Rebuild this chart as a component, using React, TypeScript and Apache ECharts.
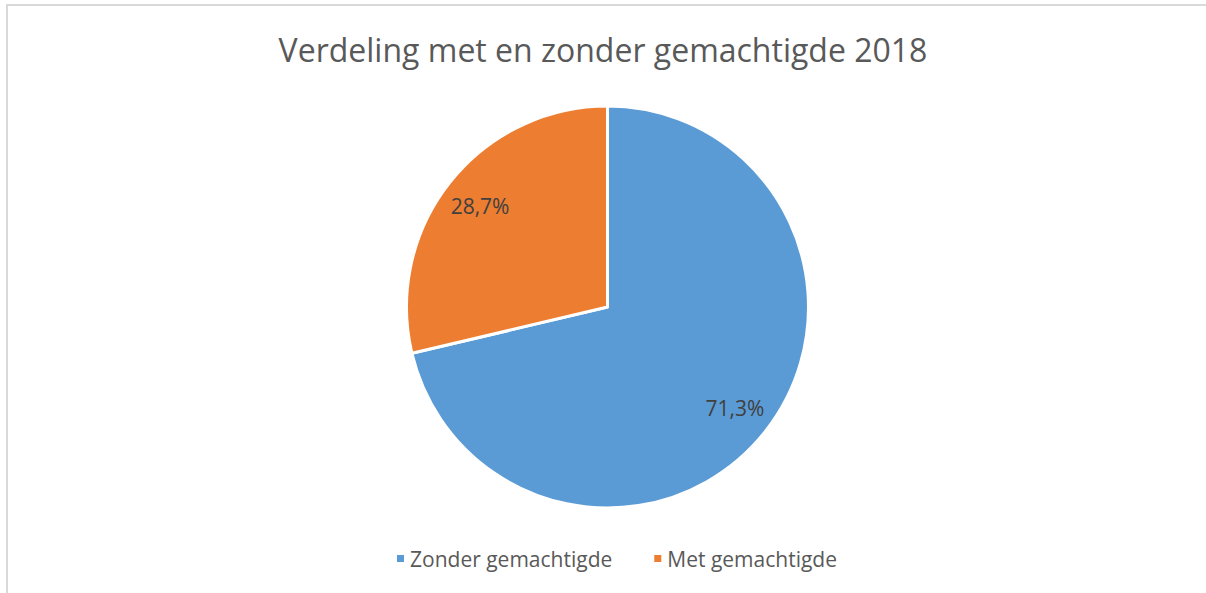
import React, { useEffect, useRef } from "react";
import * as echarts from "echarts";

const titleText = "Verdeling met en zonder gemachtigde 2018";
const categories = ["Zonder gemachtigde", "Met gemachtigde"];
const values = [71.3, 28.7];
const colors = ["#5B9BD5", "#ED7D31"];

const FONT = "'Open Sans', 'Liberation Sans', sans-serif";

export default function App() {
  const ref = useRef<HTMLDivElement>(null);
  useEffect(() => {
    if (!ref.current) return;
    const chart = echarts.init(ref.current, null, { renderer: "svg" });
    const data = categories.map((name, i) => ({
      name,
      value: values[i],
      itemStyle: { color: colors[i] },
    }));
    const fmt = (p: any) => p.value.toFixed(1).replace(".", ",") + "%";
    chart.setOption({
      animation: false,
      backgroundColor: "#ffffff",
      title: {
        text: titleText,
        left: "center",
        top: 28,
        textStyle: {
          fontFamily: FONT,
          fontSize: 32,
          fontWeight: "normal",
          color: "#595959",
        },
      },
      legend: {
        data: categories,
        bottom: 19,
        left: 390,
        icon: "rect",
        itemWidth: 9,
        itemHeight: 9,
        itemGap: 40,
        textStyle: { fontFamily: FONT, fontSize: 21, color: "#595959" },
      },
      graphic: [
        {
          type: "rect",
          shape: { x: 7, y: 5, width: 1220, height: 620 },
          style: { fill: "none", stroke: "#d9d9d9", lineWidth: 2 },
          silent: true,
        },
      ],
      series: [
        {
          type: "pie",
          center: [607.5, 307],
          radius: [0, 201],
          startAngle: 90,
          clockwise: true,
          data,
          label: { show: false },
          labelLine: { show: false },
          itemStyle: { borderColor: "#ffffff", borderWidth: 3 },
          emphasis: { disabled: true },
        },
        {
          type: "pie",
          center: [607.5, 307],
          radius: [118, 201],
          startAngle: 90,
          clockwise: true,
          silent: true,
          data: categories.map((name, i) => ({
            name,
            value: values[i],
            itemStyle: { color: "rgba(0,0,0,0)" },
          })),
          legendHoverLink: false,
          label: {
            show: true,
            position: "inside",
            formatter: fmt,
            fontFamily: FONT,
            fontSize: 21,
            color: "#404040",
          },
          labelLine: { show: false },
          emphasis: { disabled: true },
          tooltip: { show: false },
        },
      ],
    });
    return () => chart.dispose();
  }, []);
  return (
    <div
      ref={ref}
      style={{ position: "absolute", left: 0, top: 0, width: 1206, height: 593 }}
    />
  );
}
